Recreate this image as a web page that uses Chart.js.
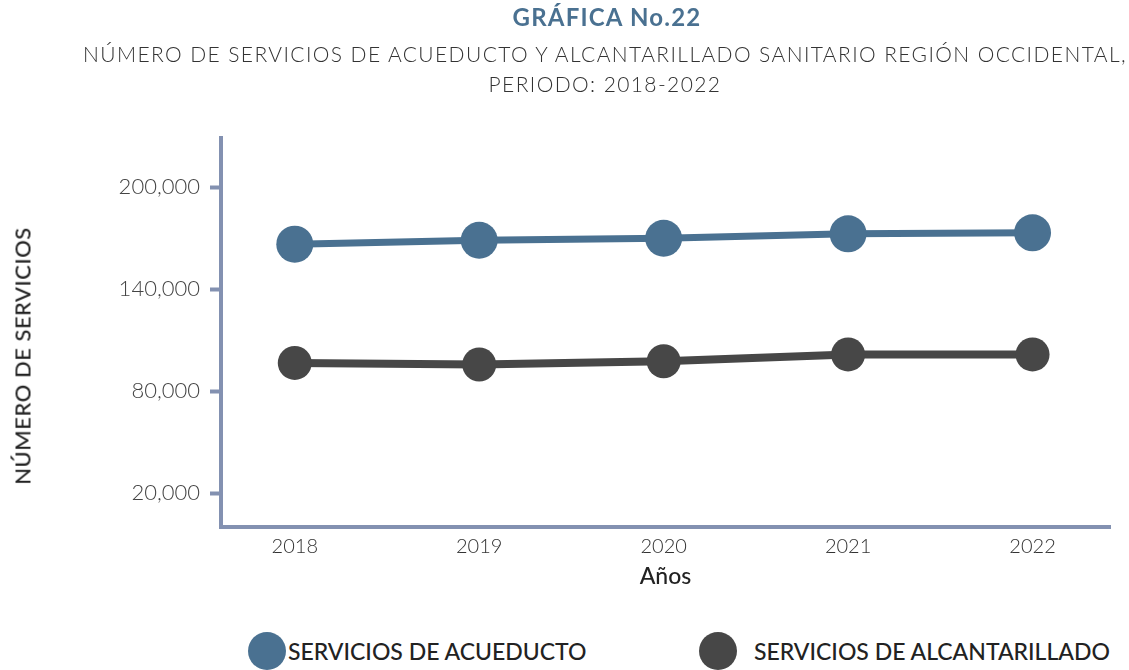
<!DOCTYPE html>
<html>
<head>
<meta charset="UTF-8">
<title>Gráfica No.22</title>
<script src="https://cdn.jsdelivr.net/npm/chart.js@4.4.0/dist/chart.umd.min.js"></script>
<style>
  body { margin: 0; background: #fff; font-family: Lato, sans-serif; }
  #wrap { position: relative; width: 1129px; height: 670px; overflow: hidden; }
  #chart { position: absolute; left: 0; top: 0; }
  .t1 { position: absolute; left: 0; width: 1214px; text-align: center; top: 2px;
        font-size: 24px; font-weight: 700; color: #4a7191; letter-spacing: 1.2px; }
  .t2 { position: absolute; left: 0; width: 1210px; text-align: center;
        font-size: 21px; font-weight: 300; color: #333; letter-spacing: 1.4px; }
  #ytitle { position: absolute; left: 22px; top: 356px; transform: translate(-50%, -50%) rotate(-90deg);
        white-space: nowrap; font-size: 22px; font-weight: 500; color: #222; letter-spacing: 0.5px; }
  .leg { position: absolute; top: 632px; height: 38px; display: flex; align-items: center;
        font-size: 23px; font-weight: 500; color: #222; white-space: nowrap; }
  .leg span.dot { display: inline-block; border-radius: 50%; }
</style>
</head>
<body>
<div id="wrap">
  <canvas id="chart" width="1129" height="590"></canvas>
  <div class="t1">GRÁFICA No.22</div>
  <div class="t2" style="top:41px">NÚMERO DE SERVICIOS DE ACUEDUCTO Y ALCANTARILLADO SANITARIO REGIÓN OCCIDENTAL,</div>
  <div class="t2" style="top:71px">PERIODO: 2018-2022</div>
  <div id="ytitle">NÚMERO DE SERVICIOS</div>
  <div id="legend"></div>
</div>

<script>
  // datos
  const years = [2018, 2019, 2020, 2021, 2022];
  const acueducto = [166500, 168800, 170000, 172600, 173200];
  const alcantarillado = [96600, 95700, 97600, 101600, 101600];
  const yTicks = [20000, 80000, 140000, 200000];

  const axisColor = '#8391b1';
  const series = [
    { label: 'SERVICIOS DE ACUEDUCTO', values: acueducto, color: '#4a7191', radius: 18.5, width: 7 },
    { label: 'SERVICIOS DE ALCANTARILLADO', values: alcantarillado, color: '#474747', radius: 17, width: 8 }
  ];

  new Chart('chart', {
    type: 'line',
    data: {
      datasets: series.map(function(s) {
        return {
          label: s.label,
          data: years.map(function(y, i) { return { x: y, y: s.values[i] }; }),
          borderColor: s.color,
          backgroundColor: s.color,
          borderWidth: s.width,
          pointRadius: s.radius,
          pointHoverRadius: s.radius,
          pointBorderWidth: 0,
          tension: 0,
          fill: false,
          clip: false
        };
      })
    },
    options: {
      responsive: false,
      animation: false,
      layout: { padding: { top: 138, right: 19, left: 0, bottom: 0 } },
      plugins: { legend: { display: false }, tooltip: { enabled: false } },
      scales: {
        x: {
          type: 'linear',
          min: 2017.6,
          max: 2022.42,
          afterFit: function(scale) { scale.height = 63; },
          afterBuildTicks: function(scale) { scale.ticks = years.map(function(v) { return { value: v }; }); },
          grid: { display: false, drawTicks: false },
          border: { display: true, color: axisColor, width: 4 },
          ticks: {
            padding: 8,
            color: '#333',
            font: { family: 'Lato', size: 20, weight: '300' },
            callback: function(v) { return String(v); }
          },
          title: {
            display: true,
            text: 'Años',
            color: '#222',
            padding: { top: 0, bottom: 0 },
            font: { family: 'Lato', size: 23, weight: '500' }
          }
        },
        y: {
          min: 0,
          max: 229000,
          afterFit: function(scale) { scale.width = 221; },
          afterBuildTicks: function(scale) { scale.ticks = yTicks.map(function(v) { return { value: v }; }); },
          grid: { drawOnChartArea: false, drawTicks: true, tickLength: 11, tickWidth: 4, tickColor: axisColor, color: axisColor },
          border: { display: true, color: axisColor, width: 4 },
          ticks: {
            padding: 10,
            color: '#444',
            font: { family: 'Lato', size: 22, weight: '300' },
            callback: function(v) { return v.toLocaleString('en-US'); }
          }
        }
      }
    }
  });

  // leyenda
  const legendPos = [{ dot: 267, text: 288 }, { dot: 718, text: 754 }];
  const legendBox = document.getElementById('legend');
  series.forEach(function(s, i) {
    const r = 19;
    const dot = document.createElement('div');
    dot.className = 'leg';
    dot.style.left = (legendPos[i].dot - r) + 'px';
    dot.innerHTML = '<span class="dot" style="width:' + (2 * r) + 'px;height:' + (2 * r) + 'px;background:' + s.color + '"></span>';
    legendBox.appendChild(dot);
    const txt = document.createElement('div');
    txt.className = 'leg';
    txt.style.left = legendPos[i].text + 'px';
    txt.textContent = s.label;
    legendBox.appendChild(txt);
  });
</script>
</body>
</html>
